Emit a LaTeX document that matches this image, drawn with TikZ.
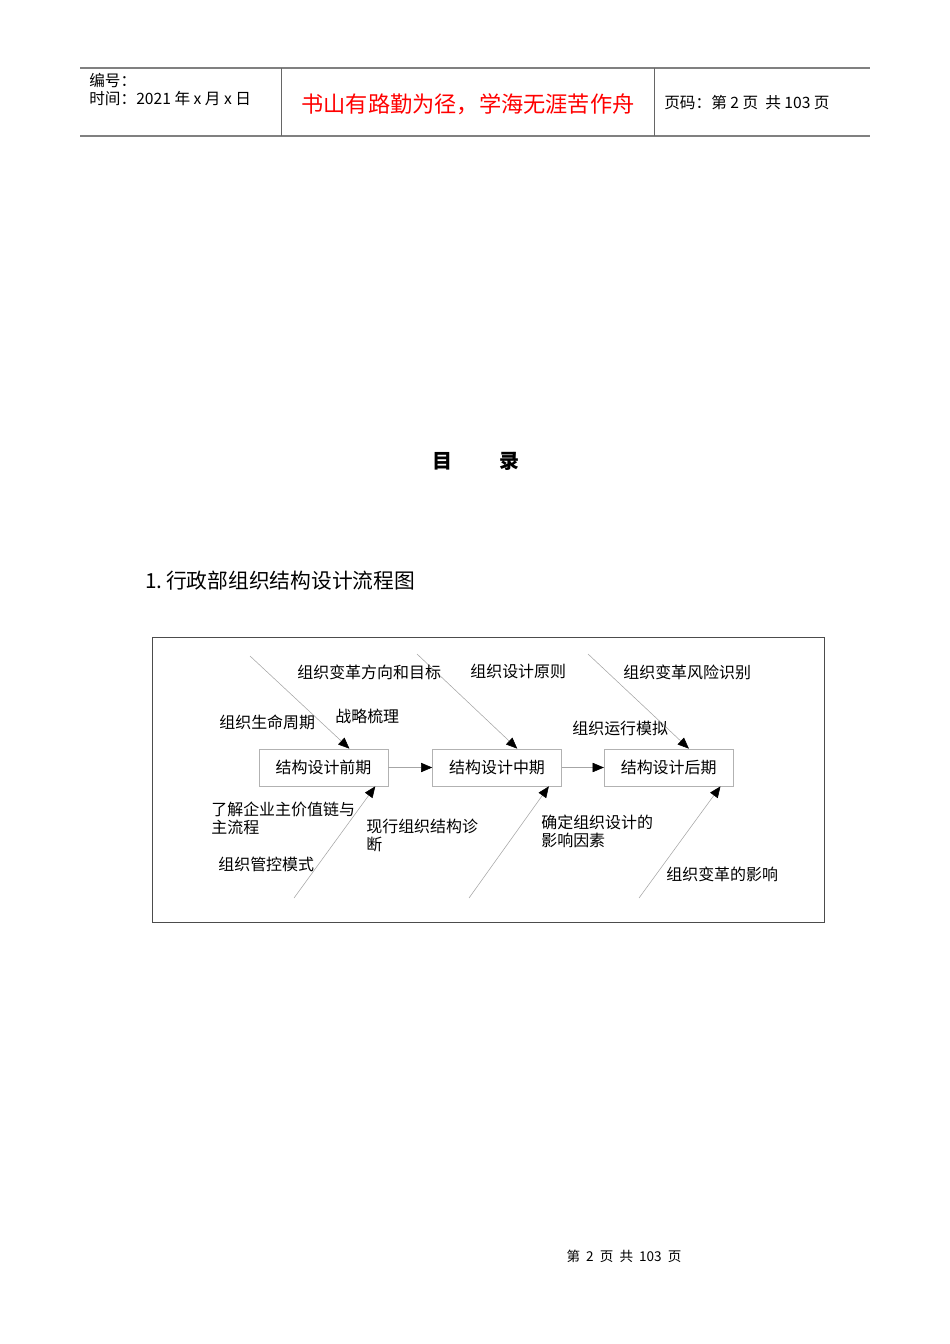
\documentclass[tikz,border=0pt]{standalone}
\usepackage{fontspec}
\setmainfont{Noto Sans CJK SC}
\usetikzlibrary{positioning,arrows.meta}

\begin{document}
\begin{tikzpicture}[x=0.6263pt,y=-0.6263pt,
	stagenode/.style={draw=gray!60,minimum width=80.8pt,minimum height=23.2pt,inner sep=0pt,font=\fontsize{10}{12}\selectfont},
	causenode/.style={inner sep=0pt,anchor=west,align=left,font=\fontsize{10}{11.3}\selectfont},
	headnode/.style={inner sep=0pt,anchor=west,font=\fontsize{9.8}{11}\selectfont},
	bone/.style={draw=gray!70,line width=0.35pt,-{Triangle[length=7pt,width=5.8pt,color=black]}}]
		\useasboundingbox (0,0) rectangle (950,1344);

		% header
		\draw[gray,line width=0.9pt] (80,68) -- (870,68);
		\draw[gray,line width=0.9pt] (80,136) -- (870,136);
		\draw[gray!80!black,line width=0.6pt] (281,68) -- (281,136);
		\draw[gray!80!black,line width=0.6pt] (654,68) -- (654,136);
		\node[headnode]													(no)		at (89,80)		{编号：};
		\node[headnode]													(date)		at (89,99)		{时间：2021\ 年\ x\ 月\ x\ 日};
		\node[inner sep=0pt,text=red,font=\fontsize{13.9}{16}\selectfont]	(motto)	at (468,104)	{书山有路勤为径，学海无涯苦作舟};
		\node[headnode]													(page)		at (664,103)	{页码：第 2 页\ \ 共 103 页};

		% titles
		\node[inner sep=0pt,font=\fontsize{12.5}{14}\bfseries]			(toc)		at (476,461)	{目\hspace{29pt}录};
		\node[inner sep=0pt,anchor=west,font=\fontsize{13}{15}\selectfont]	(title)	at (145,581)	{1.\,行政部组织结构设计流程图};

		% frame
		\draw[gray!60!black,line width=0.6pt] (152,637) rectangle (824,922);

		% stages
		\node[stagenode]							(b1)	at (323.5,767.5)	{结构设计前期};
		\node[stagenode,right=27.5pt of b1]			(b2)						{结构设计中期};
		\node[stagenode,right=26.3pt of b2]			(b3)						{结构设计后期};

		\draw[bone] (b1) -- (b2);
		\draw[bone] (b2) -- (b3);

		% bones
		\coordinate (t1) at (250,656);
		\coordinate (t2) at (417,654);
		\coordinate (t3) at (588,654);
		\coordinate (d1) at (294,898);
		\coordinate (d2) at (469,898);
		\coordinate (d3) at (639,898);

		\draw[bone] (t1) -- (b1.36);
		\draw[bone] (t2) -- (b2.43);
		\draw[bone] (t3) -- (b3.43);
		\draw[bone] (d1) -- (b1.-20);
		\draw[bone] (d2) -- (b2.-20);
		\draw[bone] (d3) -- (b3.-20);

		% causes
		\node[causenode]	(c1)	at (297,672)	{组织变革方向和目标};
		\node[causenode]	(c2)	at (470,671)	{组织设计原则};
		\node[causenode]	(c3)	at (623,672)	{组织变革风险识别};
		\node[causenode]	(c4)	at (219,722)	{组织生命周期};
		\node[causenode]	(c5)	at (335,716)	{战略梳理};
		\node[causenode]	(c6)	at (572,728)	{组织运行模拟};
		\node[causenode]	(c7)	at (211,818.5)	{了解企业主价值链与\\主流程};
		\node[causenode]	(c8)	at (366,835)	{现行组织结构诊\\断};
		\node[causenode]	(c9)	at (218,864)	{组织管控模式};
		\node[causenode]	(c10)	at (541,831)	{确定组织设计的\\影响因素};
		\node[causenode]	(c11)	at (666,874)	{组织变革的影响};

		% footer
		\node[inner sep=0pt,font=\fontsize{8.5}{10}\selectfont]	(foot)	at (624,1256)	{第\ \ 2\ \ 页\ \ 共\ \ 103\ \ 页};
	\end{tikzpicture}
\end{document}
